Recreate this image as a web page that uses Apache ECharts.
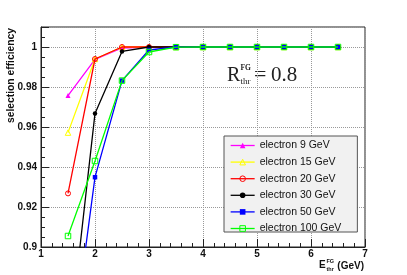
<!DOCTYPE html>
<html><head><meta charset="utf-8">
<script src="https://cdn.jsdelivr.net/npm/echarts@6/dist/echarts.min.js"></script>
<style>html,body{margin:0;padding:0;background:#fff}#c{width:407px;height:275px}</style>
</head><body><div id="c"></div>
<script>
// ---- data ----
const thresholds = [1.5, 2, 2.5, 3, 3.5, 4, 4.5, 5, 5.5, 6, 6.5];
const seriesNames = ['electron 9 GeV', 'electron 15 GeV', 'electron 20 GeV', 'electron 30 GeV', 'electron 50 GeV', 'electron 100 GeV'];
const eff9   = [0.9757, 0.9938, 0.9995, 1, 1, 1, 1, 1, 1, 1, 1];
const eff15  = [0.9572, 0.9940, 1, 1, 1, 1, 1, 1, 1, 1, 1];
const eff20  = [0.9268, 0.9940, 1, 1, 1, 1, 1, 1, 1, 1, 1];
const eff30  = [0.847, 0.9668, 0.9978, 1, 1, 1, 1, 1, 1, 1, 1];
const eff50  = [0.833, 0.9349, 0.9832, 0.9985, 1, 1, 1, 1, 1, 1, 1];
const eff100 = [0.9055, 0.9430, 0.9832, 0.9975, 0.9999, 1, 1, 1, 1, 1, 1];
const xTickLabels = ['1', '2', '3', '4', '5', '6', '7'];
const yTickLabels = ['0.9', '0.92', '0.94', '0.96', '0.98', '1'];

// ---- styles ----
const allValues = [eff9, eff15, eff20, eff30, eff50, eff100];
const colors = ['#ff00ff', '#ffff00', '#ff0000', '#000000', '#0000ff', '#00ff00'];
const symbols = ['triangle', 'triangle', 'circle', 'circle', 'rect', 'rect'];
const hollow = [false, true, true, false, false, true];
const symSizes = [5, 5.5, 5, 4.5, 4.5, 5.5];

function markerStyle(i) {
  return hollow[i]
    ? { color: 'rgba(0,0,0,0)', borderColor: colors[i], borderWidth: 1 }
    : { color: colors[i], borderColor: colors[i], borderWidth: 0 };
}

const series = seriesNames.map((name, i) => ({
  name: name,
  type: 'line',
  data: thresholds.map((x, j) => [x, allValues[i][j]]),
  symbol: symbols[i],
  symbolSize: symSizes[i],
  showAllSymbol: true,
  itemStyle: markerStyle(i),
  lineStyle: { color: colors[i], width: 1.3 },
  clip: true,
  z: 2 + i
}));

const axisCol = '#222';
const chart = echarts.init(document.getElementById('c'), null, { renderer: 'canvas' });
chart.setOption({
  animation: false,
  backgroundColor: '#fff',
  grid: { left: 41, right: 42, top: 27, bottom: 28, show: true, borderColor: axisCol, borderWidth: 1, backgroundColor: '#fff' },
  xAxis: {
    type: 'value', min: 1, max: 7, interval: 1,
    axisLine: { show: true, lineStyle: { color: axisCol, width: 1 } },
    axisTick: { show: true, inside: true, length: 8, lineStyle: { color: axisCol } },
    minorTick: { show: true, splitNumber: 5, length: 4, lineStyle: { color: axisCol } },
    splitLine: { show: true, lineStyle: { color: '#999', type: 'dotted', width: 1 } },
    axisLabel: {
      margin: 2, color: '#111', fontFamily: 'Liberation Sans', fontWeight: 'bold', fontSize: 10,
      formatter: v => { const i = Math.round(v - 1); return (Math.abs(v - 1 - i) < 1e-6 && xTickLabels[i]) ? xTickLabels[i] : ''; }
    }
  },
  yAxis: {
    type: 'value', min: 0.9, max: 1.01, interval: 0.02,
    axisLine: { show: true, lineStyle: { color: axisCol, width: 1 } },
    axisTick: { show: true, inside: true, length: 8, lineStyle: { color: axisCol } },
    minorTick: { show: true, splitNumber: 4, length: 4, lineStyle: { color: axisCol } },
    splitLine: { show: true, lineStyle: { color: '#999', type: 'dotted', width: 1 } },
    axisLabel: {
      margin: 4, color: '#111', fontFamily: 'Liberation Sans', fontWeight: 'bold', fontSize: 10,
      showMaxLabel: false,
      formatter: v => { const k = Math.round((v - 0.9) / 0.02); return (Math.abs(v - 0.9 - k * 0.02) < 1e-6 && yTickLabels[k]) ? yTickLabels[k] : ''; }
    }
  },
  legend: {
    data: seriesNames.map((name, i) => ({ name: name, itemStyle: markerStyle(i) })),
    orient: 'vertical',
    left: 224, top: 136,
    padding: [4, 16, -2, 6],
    itemWidth: 24, itemHeight: 7, itemGap: 5.6,
    backgroundColor: '#f1f1f1',
    borderColor: '#555', borderWidth: 1,
    lineStyle: { width: 1.3 },
    textStyle: { fontFamily: 'Liberation Sans', fontSize: 10.5, color: '#111', lineHeight: 10 },
    selectedMode: false
  },
  graphic: [
    { type: 'text', x: 11, y: 75.5, rotation: Math.PI / 2,
      style: { text: 'selection efficiency', font: 'bold 10.3px "Liberation Sans"', fill: '#111', align: 'center', verticalAlign: 'middle' } },
    { type: 'text', x: 319, y: 265.5,
      style: { text: 'E', font: 'bold 10px "Liberation Sans"', fill: '#111', align: 'left', verticalAlign: 'middle' } },
    { type: 'text', x: 326.5, y: 261,
      style: { text: 'FG', font: 'bold 5.5px "Liberation Sans"', fill: '#111', align: 'left', verticalAlign: 'middle' } },
    { type: 'text', x: 326.5, y: 269.5,
      style: { text: 'thr', font: 'bold 5.5px "Liberation Sans"', fill: '#111', align: 'left', verticalAlign: 'middle' } },
    { type: 'text', x: 364, y: 266,
      style: { text: '(GeV)', font: 'bold 10px "Liberation Sans"', fill: '#111', align: 'right', verticalAlign: 'middle' } },
    { type: 'text', x: 227, y: 75.5,
      style: { text: 'R', font: '20px "Liberation Serif"', fill: '#222', align: 'left', verticalAlign: 'middle' } },
    { type: 'text', x: 240.5, y: 68.5,
      style: { text: 'FG', font: 'bold 7.5px "Liberation Serif"', fill: '#222', align: 'left', verticalAlign: 'middle' } },
    { type: 'text', x: 240.5, y: 81.5,
      style: { text: 'thr', font: '9px "Liberation Serif"', fill: '#222', align: 'left', verticalAlign: 'middle' } },
    { type: 'text', x: 254, y: 75.5, scaleX: 1.1,
      style: { text: '=', font: '20px "Liberation Serif"', fill: '#222', align: 'left', verticalAlign: 'middle' } },
    { type: 'text', x: 271, y: 75.5,
      style: { text: '0.8', font: '21px "Liberation Serif"', fill: '#222', align: 'left', verticalAlign: 'middle' } }
  ],
  series: series
});
</script>
</body></html>
